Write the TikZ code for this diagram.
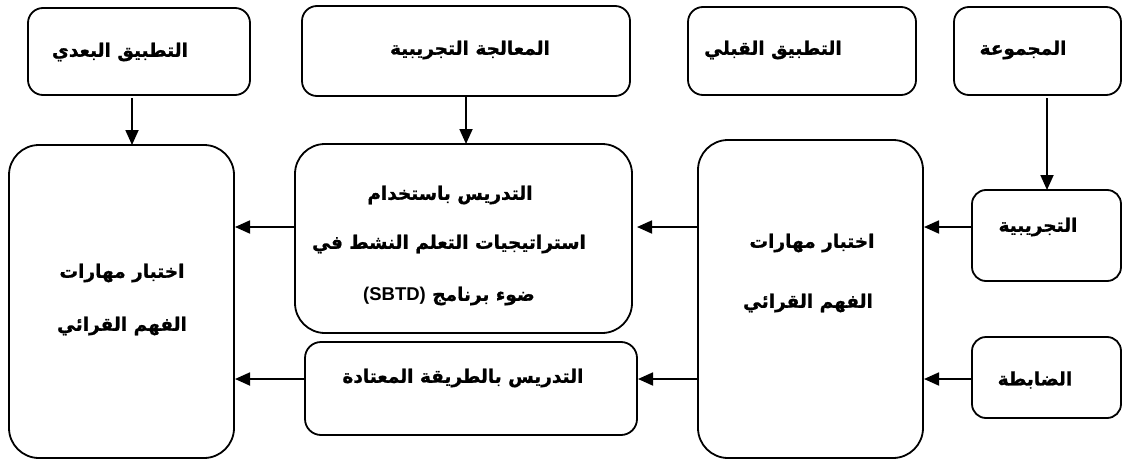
\documentclass[tikz,border=0pt]{standalone}
\usepackage{fontspec}
\TeXXeTstate=1
\newfontfamily\arabicfont[Script=Arabic, BoldFeatures={FakeBold=1}]{DejaVu Sans}
\newfontfamily\latinfont{Liberation Sans}
\usetikzlibrary{arrows.meta}
\newcommand\artxt[1]{\beginR #1\endR}
\tikzset{
  box/.style={draw, line width=1.8pt, inner sep=0pt, outer sep=0pt, fill=white},
  lbl/.style={font=\arabicfont\bfseries\fontsize{18.5}{22}\selectfont, inner sep=0pt},
  arr/.style={line width=1.8pt, -{Triangle[length=15pt,width=13pt]}},
}
\begin{document}
\begin{tikzpicture}[x=1pt,y=-1pt]
\useasboundingbox (0,0) rectangle (1124,460);
% top row
\node[box, rounded corners=15pt, minimum width=222pt, minimum height=87pt] (A) at (139,51.5) {};
\node[box, rounded corners=15pt, minimum width=328pt, minimum height=90pt] (B) at (466,51) {};
\node[box, rounded corners=15pt, minimum width=228pt, minimum height=88pt] (C) at (802,51) {};
\node[box, rounded corners=15pt, minimum width=167pt, minimum height=88pt] (D) at (1037.5,51) {};
% middle
\node[box, rounded corners=30pt, minimum width=225pt, minimum height=313pt] (E) at (121.5,301.5) {};
\node[box, rounded corners=30pt, minimum width=337pt, minimum height=189pt] (F) at (463.5,238.5) {};
\node[box, rounded corners=16pt, minimum width=332pt, minimum height=93pt] (G) at (471,388.5) {};
\node[box, rounded corners=30pt, minimum width=225pt, minimum height=318pt] (H) at (810.5,299) {};
\node[box, rounded corners=14pt, minimum width=149pt, minimum height=91pt] (I) at (1046.5,235.5) {};
\node[box, rounded corners=14pt, minimum width=149pt, minimum height=81pt] (J) at (1046.5,377.5) {};
% texts
\node[lbl] (tA) at (120,52) {\artxt{التطبيق البعدي}};
\node[lbl] (tB) at (470,50) {\artxt{المعالجة التجريبية}};
\node[lbl] (tC) at (773,50) {\artxt{التطبيق القبلي}};
\node[lbl] (tD) at (1023,50) {\artxt{المجموعة}};
\node[lbl] (tE1) at (122,273) {\artxt{اختبار مهارات}};
\node[lbl] (tE2) at (122,326) {\artxt{الفهم القرائي}};
\node[lbl] (tF1) at (450,195) {\artxt{التدريس باستخدام}};
\node[lbl] (tF2) at (449,244) {\artxt{استراتيجيات التعلم النشط في}};
\node[lbl] (tF3) at (449,296) {\artxt{ضوء برنامج \beginL{\latinfont\bfseries (SBTD)}\endL}};
\node[lbl] (tG) at (463,378) {\artxt{التدريس بالطريقة المعتادة}};
\node[lbl] (tH1) at (812,243) {\artxt{اختبار مهارات}};
\node[lbl] (tH2) at (808,303) {\artxt{الفهم القرائي}};
\node[lbl] (tI) at (1038,227) {\artxt{التجريبية}};
\node[lbl] (tJ) at (1035,380) {\artxt{الضابطة}};
% helper coordinates
\coordinate (xA) at (132,0);
\coordinate (xB) at (466,0);
\coordinate (xD) at (1047,0);
\coordinate (yU) at (0,227);
\coordinate (yL) at (0,379);
% vertical arrows
\draw[arr, shorten <=3pt] (A.south -| xA) -- (E.north -| xA);
\draw[arr] (B.south -| xB) -- (F.north -| xB);
\draw[arr, shorten <=3pt] (D.south -| xD) -- (I.north -| xD);
% horizontal arrows
\draw[arr, shorten >=1pt] (F.west |- yU) -- (E.east |- yU);
\draw[arr, shorten >=1pt] (G.west |- yL) -- (E.east |- yL);
\draw[arr, shorten >=5pt] (H.west |- yU) -- (F.east |- yU);
\draw[arr, shorten >=1pt] (H.west |- yL) -- (G.east |- yL);
\draw[arr, shorten >=1pt] (I.west |- yU) -- (H.east |- yU);
\draw[arr, shorten >=1pt] (J.west |- yL) -- (H.east |- yL);
\end{tikzpicture}
\end{document}
